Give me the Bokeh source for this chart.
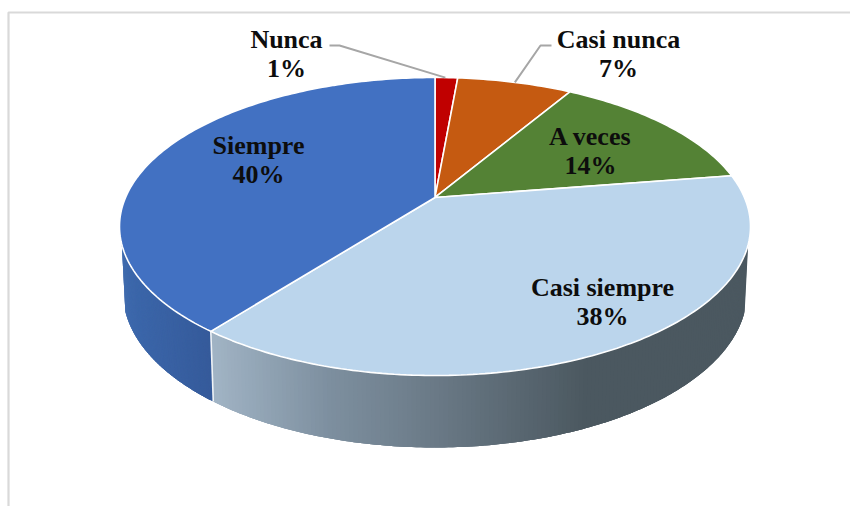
import numpy as np
from bokeh.core.properties import value
from bokeh.embed import file_html
from bokeh.models import Range1d
from bokeh.plotting import figure
from bokeh.resources import INLINE

# Survey shares, clockwise from twelve o'clock
categories = ["Nunca", "Casi nunca", "A veces", "Casi siempre", "Siempre"]
shares = [1.4, 7.1, 14.0, 38.0, 39.5]
face_colors = ["#C00000", "#C55A11", "#548235", "#BBD5EC", "#4271C2"]

# Label anchors (centre of the two-line block)
label_x = [286, 618, 590, 602, 258]
label_y = [53, 53, 150, 301, 159]

W, H = 850, 506
CX = 434.5
TOP_CY, TOP_RX, TOP_RY = 226.0, 315.5, 149.0
BOT_CY, BOT_RX, BOT_RY = 292.0, 312.0, 155.0
TILT = 0.195  # perspective shift of the pie's apex towards the back


def project(theta):
    """Disc angle (clockwise from top) to unit-ellipse coordinates under perspective."""
    u, v = np.sin(theta), np.cos(theta)
    d = 1 + TILT * v
    return u * np.sqrt(1 - TILT**2) / d, (v + TILT) / d


def rim(theta):
    u, v = project(theta)
    return CX + TOP_RX * u, TOP_CY - TOP_RY * v


def floor(theta):
    u, v = project(theta)
    return CX + BOT_RX * u, BOT_CY - BOT_RY * v


def lerp_color(stops, t):
    xs = [s[0] for s in stops]
    chans = [np.interp(t, xs, [int(s[1][i:i + 2], 16) for s in stops]) for i in (1, 3, 5)]
    return "#%02x%02x%02x" % tuple(int(round(c)) for c in chans)


p = figure(width=W, height=H, x_range=Range1d(0, W), y_range=Range1d(H, 0),
           output_backend="svg", toolbar_location=None, min_border=0)
p.axis.visible = False
p.grid.visible = False
p.outline_line_color = None
p.background_fill_color = "#ffffff"
p.border_fill_color = "#ffffff"

# Chart-area edge: top and left only
p.line([8, 8, W], [H, 12, 12], line_color="#d9d9d9", line_width=2.2)

edges = np.radians(np.cumsum([0] + shares) * 3.6)

# Wall silhouette limits expressed as disc angles
wall_right = np.radians(108.0)
wall_left = np.radians(252.0)

blue_stops = [(120, "#3d69ad"), (216, "#355a9a")]
grey_stops = [(216, "#a0b3c4"), (330, "#7d8f9f"), (420, "#6d7d8a"), (585, "#4b5860"), (760, "#4b5860")]


def draw_wall(t0, t1, stops, n=160):
    # Each strip runs under its successor so no seams show between them
    ts = np.linspace(t0, t1, n + 1)
    rx, ry = rim(ts)
    fx, fy = floor(ts)
    for i in range(n):
        j = min(i + 3, n)
        col = lerp_color(stops, 0.5 * (fx[i] + fx[i + 1]))
        p.patch(np.r_[rx[i:j + 1], fx[i:j + 1][::-1]], np.r_[ry[i:j + 1], fy[i:j + 1][::-1]],
                fill_color=col, line_color=None)


boundary = edges[4]  # Casi siempre / Siempre
draw_wall(wall_right, boundary, grey_stops)
draw_wall(boundary, wall_left, blue_stops)

# White seam between the two visible walls
sx0, sy0 = rim(boundary)
sx1, sy1 = floor(boundary)
p.line([sx0, sx1], [sy0, sy1], line_color="#eef2f6", line_width=1.6)

# Top face wedges
ax, ay = CX, TOP_CY - TOP_RY * TILT
for i, col in enumerate(face_colors):
    ts = np.linspace(edges[i], edges[i + 1], max(int(shares[i] * 4), 6))
    x, y = rim(ts)
    p.patch(np.r_[ax, x], np.r_[ay, y], fill_color=col, line_color="#ffffff", line_width=1.6)

# Leader lines for the two small slices
leader_color = "#a6a6a6"
mx0, my0 = rim(0.5 * (edges[0] + edges[1]))
mx1, my1 = rim(0.5 * (edges[1] + edges[2]))
p.line([329, 339, mx0 - 1], [45, 45, my0], line_color=leader_color, line_width=2)
p.line([551, 540, mx1], [45, 45, my1], line_color=leader_color, line_width=2)

# Two-line labels: name over rounded share
line_gap = 14.5
tx, ty, tt = [], [], []
for name, share, x, y in zip(categories, shares, label_x, label_y):
    tx += [x, x]
    ty += [y - line_gap, y + line_gap]
    tt += [name, f"{round(share)}%"]
p.text(tx, ty, text=tt, text_font=value("Liberation Serif"), text_font_style="bold",
       text_font_size="26px", text_align="center", text_baseline="middle", text_color="#0d0d0d")

open("out.html", "w").write(file_html(p, INLINE))
